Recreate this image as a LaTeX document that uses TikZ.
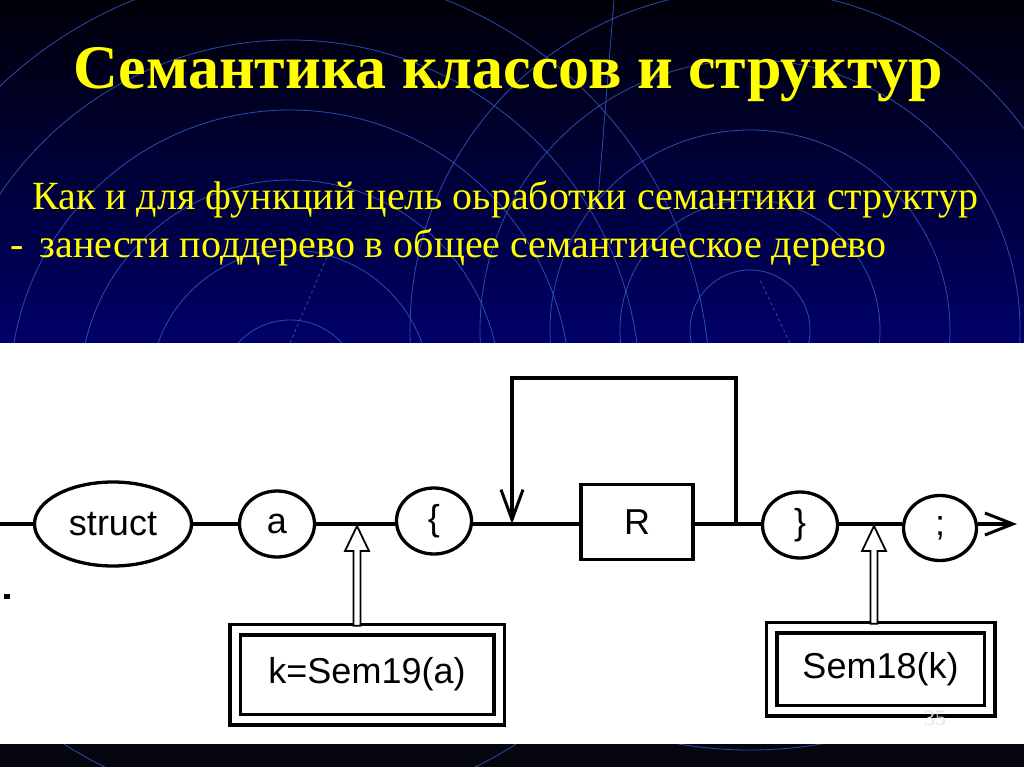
\documentclass[tikz,border=0pt]{standalone}
\usepackage{fontspec}
\setmainfont{Liberation Serif}
\newfontfamily\diagfont{Liberation Sans}
\usetikzlibrary{arrows.meta,calc,shapes.geometric}
\definecolor{ttl}{RGB}{255,255,0}
\definecolor{bgtop}{RGB}{0,0,8}
\definecolor{bgbot}{RGB}{0,0,104}
\definecolor{ring}{RGB}{50,90,195}
\definecolor{strip}{RGB}{5,5,16}
\begin{document}
\begin{tikzpicture}[x=1pt,y=-1pt,
  wire/.style={line width=3.3pt},
  oval/.style={ellipse,draw,line width=3.3pt,inner sep=0pt,font=\diagfont\fontsize{36}{36}\selectfont},
  rbox/.style={rectangle,draw,line width=3.3pt,inner sep=0pt,font=\diagfont\fontsize{36}{36}\selectfont},
  dbox/.style={rectangle,draw,line width=3.5pt,double=white,double distance=7pt,inner sep=0pt,font=\diagfont\fontsize{36}{36}\selectfont},
  hollow/.style={line width=1.8pt,fill=white,line join=miter},
  ringline/.style={ring,line width=0.8pt,opacity=0.85},
  ttltext/.style={inner sep=0pt,text=ttl}
]
\useasboundingbox (0,0) rectangle (1024,767);
% background
\shade[top color=bgtop,bottom color=bgbot] (0,0) rectangle (1024,345);
\fill[strip] (0,744) rectangle (1024,767);
\begin{scope}
  \clip (0,0) rectangle (1024,343);
  \foreach \r in {70,140,210,280,350,420}
    \draw[ringline] (290,390) circle (\r);
  \foreach \r in {60,130,200,270,340}
    \draw[ringline] (750,330) circle (\r);
  \draw[ringline] (614,0) -- (598,200);
  \draw[ringline,dashed] (290,343) -- (330,250);
  \draw[ringline,dashed] (790,343) -- (760,280);
\end{scope}
\begin{scope}
  \clip (0,744) rectangle (1024,767);
  \draw[ringline] (290,390) circle (420);
  \draw[ringline] (750,330) circle (420);
\end{scope}
\fill[white] (0,343) rectangle (1024,744);

% texts
\node[ttltext,anchor=base,font=\bfseries\fontsize{62}{62}\selectfont] (title) at (508,89) {Семантика классов и структур};
\node[ttltext,anchor=base west,font=\fontsize{40}{40}\selectfont] (l1) at (32,210) {Как и для функций цель оьработки семантики структур};
\node[ttltext,anchor=base west,font=\fontsize{40}{40}\selectfont] (l2) at (10,257) {-\hspace{16pt}занести поддерево в общее семантическое дерево};

% diagram nodes
\coordinate (start) at (0,524);
\node[oval,minimum width=157pt,minimum height=84pt] (st) at (113,524) {struct};
\node[oval,minimum width=75pt,minimum height=66pt] (a) at (277,524) {a};
\node[oval,minimum width=75pt,minimum height=66pt] (lb) at (434,521) {\{};
\coordinate (j) at (512,524);
\node[rbox,minimum width=112pt,minimum height=75pt] (R) at (637,522) {R};
\coordinate (j2) at (736,524);
\node[oval,minimum width=75pt,minimum height=66pt] (rb) at (800,525) {\}};
\node[oval,minimum width=73pt,minimum height=65pt] (sc) at (940,528) {;};
\coordinate (end) at (1017,524);
\coordinate (lt) at (512,378);
\coordinate (rt) at (736,378);

\node[dbox,minimum width=264pt,minimum height=90pt] (k1) at (367,674.5) {k=Sem19(a)};
\node[dbox,minimum width=218pt,minimum height=83pt] (k2) at (880.5,669) {Sem18(k)};
\node[text=black!10,font=\fontsize{22}{22}\selectfont,inner sep=0pt] (pg) at (935,718) {35};
\fill[black] (4,594) rectangle (10,599);

% connectors
\draw[wire] (start) -- (start -| st.west);
\draw[wire] (st.east |- start) -- (start -| a.west);
\draw[wire] (a.east |- start) -- (start -| lb.west);
\draw[wire] (lb.east |- j) -- (j) -- (R.west |- j);
\draw[wire] (R.east |- j2) -- (j2) -- (rb.west |- j2);
\draw[wire] (rb.east |- start) -- (start -| sc.west);
\draw[wire,-{Straight Barb[length=28pt,width=22pt,line width=3pt]}] (sc.east |- end) -- (end);
\draw[wire,-{Straight Barb[length=30pt,width=22pt,line width=3pt]}] (j2) -- (rt) -- (lt) -- (j);

% hollow upward arrows
\coordinate (t1) at (357,526);
\coordinate (t2) at (874,526);
\coordinate (b1) at (t1 |- k1.north);
\coordinate (b2) at (t2 |- k2.north);
\draw[hollow] (t1) -- ++(-12,25) -- ++(8.5,0) -- ($(b1)+(-3.5,-2)$) -- ++(7,0) -- ($(t1)+(3.5,25)$) -- ++(8.5,0) -- cycle;
\draw[hollow] (t2) -- ++(-12,25) -- ++(8.5,0) -- ($(b2)+(-3.5,-2)$) -- ++(7,0) -- ($(t2)+(3.5,25)$) -- ++(8.5,0) -- cycle;
\end{tikzpicture}
\end{document}
